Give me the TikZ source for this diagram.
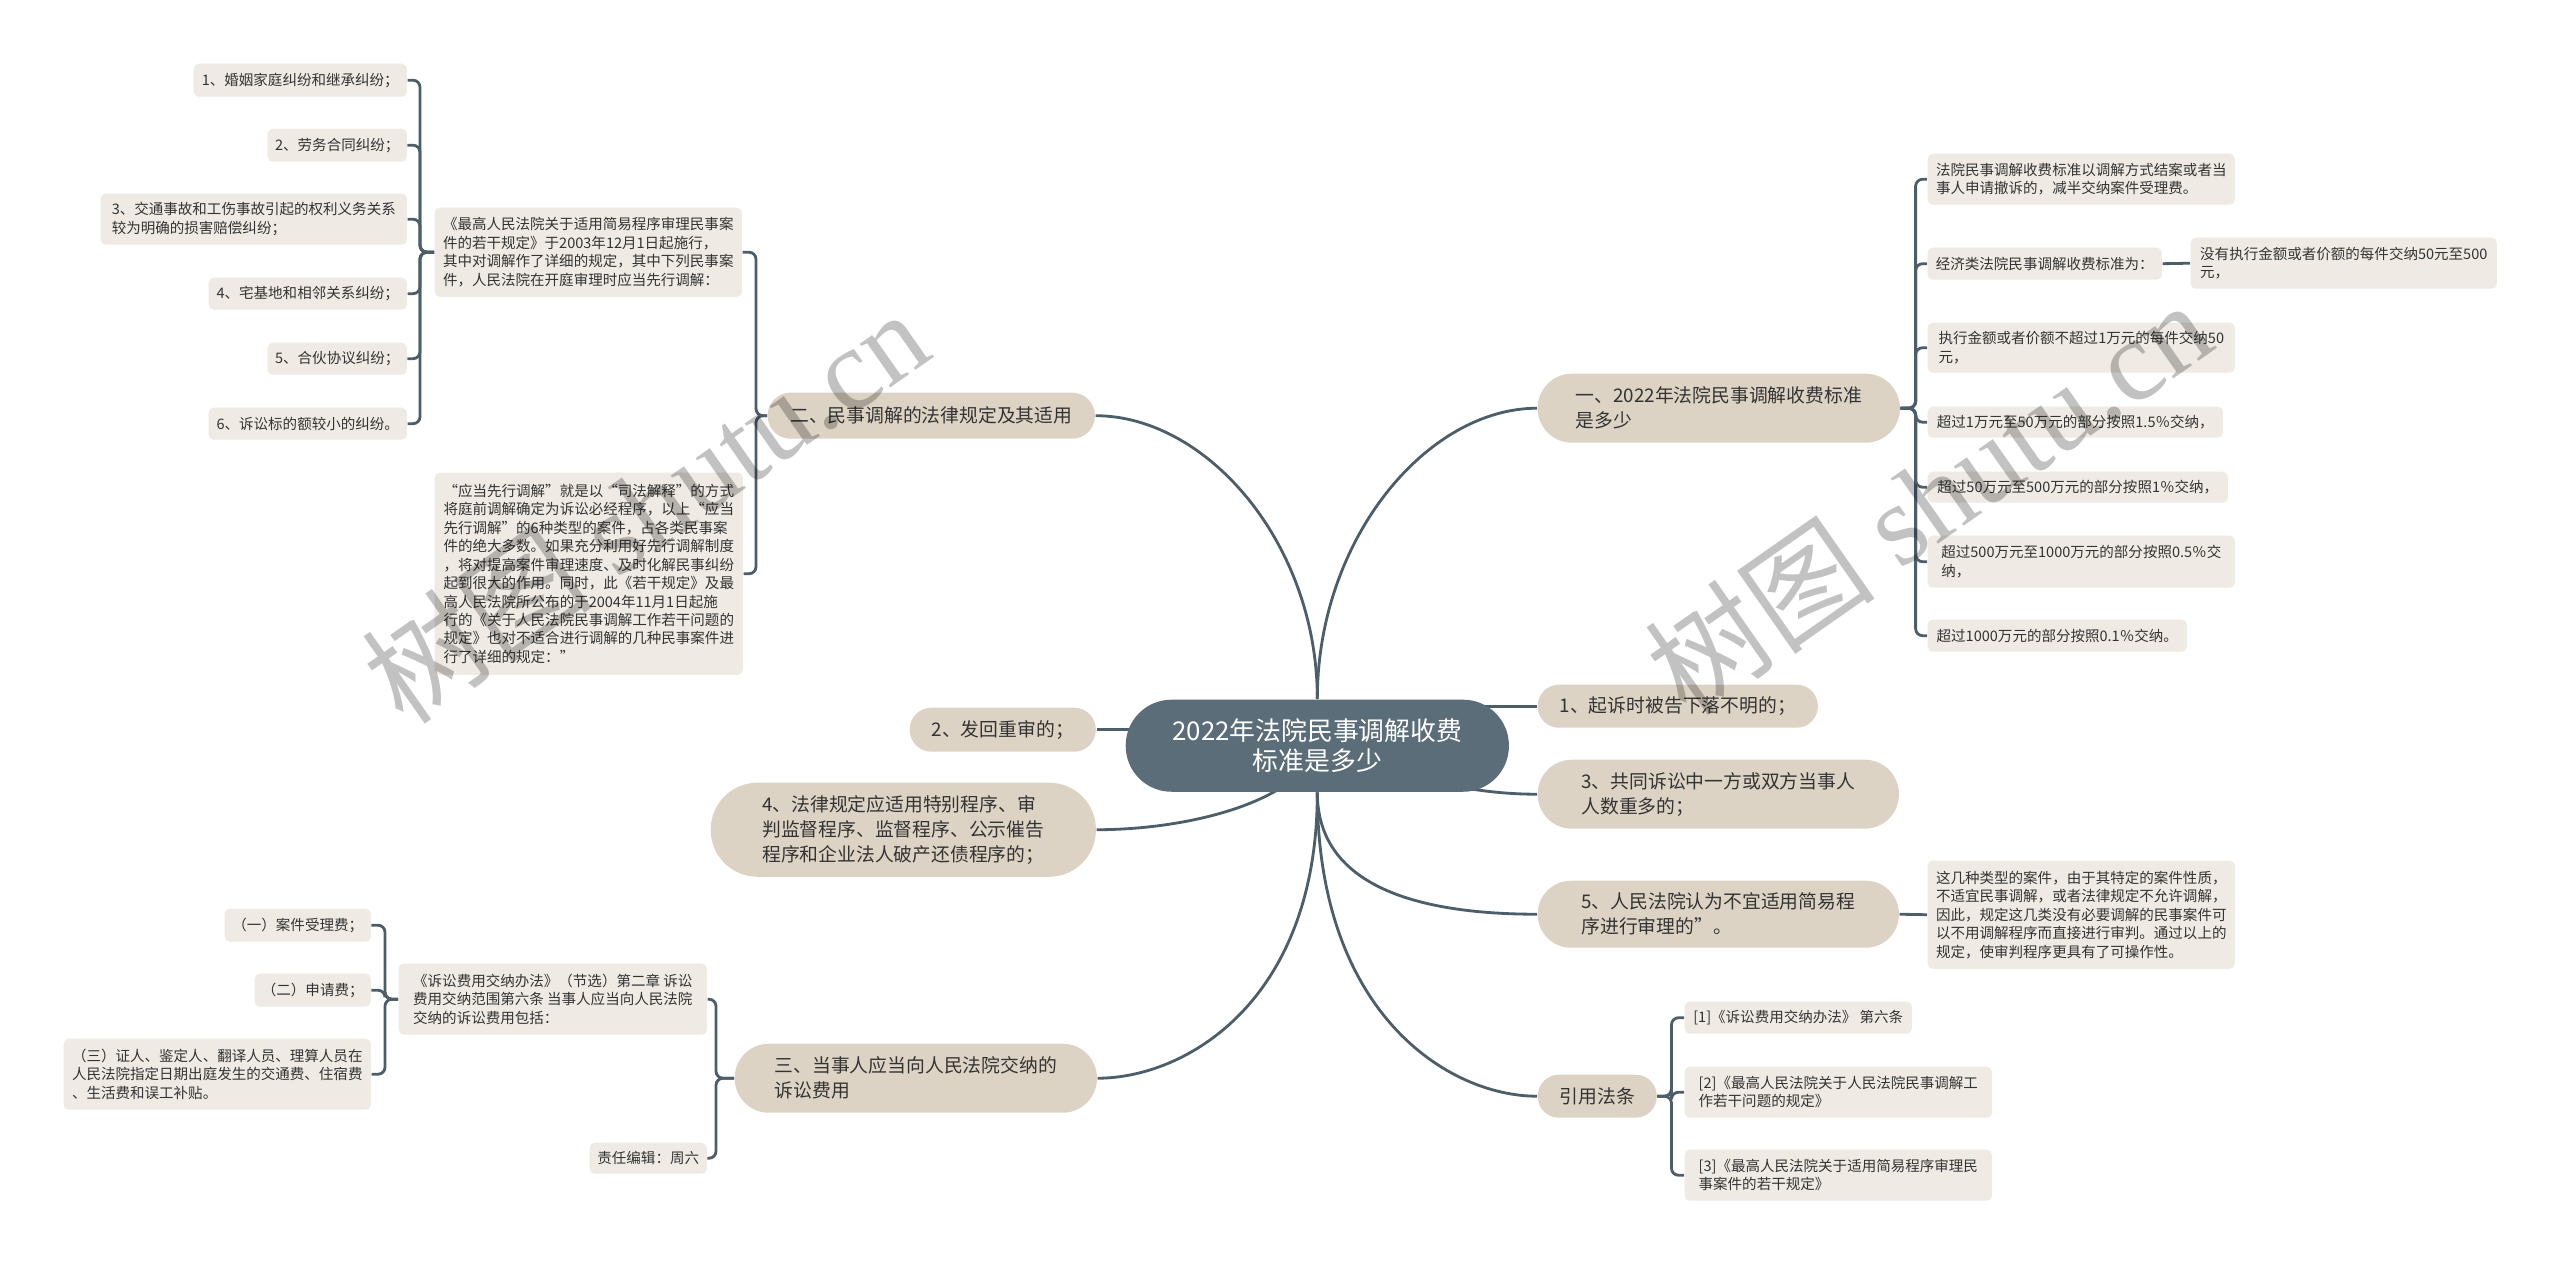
\documentclass[tikz,border=0pt]{standalone}
\usepackage{fontspec}
\setmainfont{Noto Sans CJK SC}
\newfontfamily\wmlatin{Liberation Serif}
\usetikzlibrary{backgrounds}
\definecolor{rootc}{HTML}{5B6D79}
\definecolor{branchc}{HTML}{DDD3C4}
\definecolor{leafc}{HTML}{EFEBE4}
\definecolor{linec}{HTML}{4C5E6A}
\definecolor{txtc}{HTML}{333333}
\newcommand\leafbox[6]{%
  \pgfmathsetmacro\nw{(#4-#2)/100}\pgfmathsetmacro\nh{(#5-#3)/100}%
  \node[leaf, minimum width=\nw cm, minimum height=\nh cm, anchor=north west] (#1) at (#2,#3) {#6};}
\newcommand\pillbox[6]{%
  \pgfmathsetmacro\nw{(#4-#2)/100}\pgfmathsetmacro\nh{(#5-#3)/100}\pgfmathsetmacro\nr{(#5-#3)/200-0.003}%
  \node[pill, rounded corners=\nr cm, minimum width=\nw cm, minimum height=\nh cm, anchor=north west] (#1) at (#2,#3) {#6};}
\begin{document}
\begin{tikzpicture}[x=0.01cm,y=-0.01cm,
  leaf/.style={fill=leafc, rounded corners=0.05cm, inner sep=0pt, align=left, text=txtc, font=\fontsize{4.13pt}{5.25pt}\selectfont},
  pill/.style={fill=branchc, inner sep=0pt, align=left, text=txtc, font=\fontsize{5.35pt}{7.1pt}\selectfont},
  conn/.style={draw=linec, line width=0.8pt},
  br/.style={conn, rounded corners=0.07cm},
  wm/.style={rotate=35, text=black, opacity=0.24, font=\fontsize{33pt}{33pt}\selectfont}]
\useasboundingbox (0,0) rectangle (2560,1264);

% root
\node[fill=rootc, rounded corners=0.457cm, minimum width=3.83cm, minimum height=0.92cm, inner sep=0pt,
  text=white, align=center, font=\fontsize{7.35pt}{8.6pt}\selectfont, anchor=north west] (root) at (1125,699)
  {2022年法院民事调解收费\\标准是多少};

% main branches
\pillbox{B2}{767}{392}{1094}{438}{二、民事调解的法律规定及其适用}
\pillbox{B1}{1537}{373}{1899}{442}{一、2022年法院民事调解收费标准\\是多少}
\pillbox{B3}{734}{1043}{1096}{1112}{三、当事人应当向人民法院交纳的\\诉讼费用}
\pillbox{N2}{909}{707}{1095}{751}{2、发回重审的；}
\pillbox{N4}{710}{782}{1095}{876}{4、法律规定应适用特别程序、审\\判监督程序、监督程序、公示催告\\程序和企业法人破产还债程序的；}
\pillbox{N1}{1537}{684}{1817}{727}{1、起诉时被告下落不明的；}
\pillbox{N3}{1537}{759}{1898}{828}{3、共同诉讼中一方或双方当事人\\人数重多的；}
\pillbox{N5}{1537}{880}{1898}{947}{5、人民法院认为不宜适用简易程\\序进行审理的”。}
\pillbox{Ref}{1537}{1074}{1656}{1117}{引用法条}

% left top leaves
\leafbox{L1}{193}{63}{406}{96}{1、婚姻家庭纠纷和继承纠纷；}
\leafbox{L2}{267}{128}{406}{161}{2、劳务合同纠纷；}
\leafbox{L3}{100}{193}{406}{244}{3、交通事故和工伤事故引起的权利义务关系\\较为明确的损害赔偿纠纷；}
\leafbox{L4}{208}{277}{406}{309}{4、宅基地和相邻关系纠纷；}
\leafbox{L5}{267}{342}{406}{374}{5、合伙协议纠纷；}
\leafbox{L6}{208}{407}{406}{439}{6、诉讼标的额较小的纠纷。}
\leafbox{P1}{434}{207}{741}{296}{《最高人民法院关于适用简易程序审理民事案\\件的若干规定》于2003年12月1日起施行，\\其中对调解作了详细的规定，其中下列民事案\\件，人民法院在开庭审理时应当先行调解：}
\leafbox{P2}{434}{472}{742}{674}{“应当先行调解”就是以“司法解释”的方式\\将庭前调解确定为诉讼必经程序，以上“应当\\先行调解”的6种类型的案件，占各类民事案\\件的绝大多数。如果充分利用好先行调解制度\\，将对提高案件审理速度、及时化解民事纠纷\\起到很大的作用。同时，此《若干规定》及最\\高人民法院所公布的于2004年11月1日起施\\行的《关于人民法院民事调解工作若干问题的\\规定》也对不适合进行调解的几种民事案件进\\行了详细的规定：”}

% left bottom leaves
\leafbox{c1}{224}{908}{370}{941}{（一）案件受理费；}
\leafbox{c2}{254}{973}{370}{1006}{（二）申请费；}
\leafbox{c3}{63}{1038}{370}{1109}{（三）证人、鉴定人、翻译人员、理算人员在\\人民法院指定日期出庭发生的交通费、住宿费\\、生活费和误工补贴。}
\leafbox{P3}{398}{963}{706}{1034}{《诉讼费用交纳办法》（节选）第二章 诉讼\\费用交纳范围第六条 当事人应当向人民法院\\交纳的诉讼费用包括：}
\leafbox{P4}{589}{1142}{706}{1173}{责任编辑：周六}

% right leaves
\leafbox{r1}{1927}{153}{2234}{204}{法院民事调解收费标准以调解方式结案或者当\\事人申请撤诉的，减半交纳案件受理费。}
\leafbox{r2}{1927}{247}{2161}{279}{经济类法院民事调解收费标准为：}
\leafbox{r2a}{2190}{237}{2496}{288}{没有执行金额或者价额的每件交纳50元至500\\元，}
\leafbox{r3}{1927}{322}{2234}{372}{执行金额或者价额不超过1万元的每件交纳50\\元，}
\leafbox{r4}{1927}{406}{2222}{437}{超过1万元至50万元的部分按照1.5％交纳，}
\leafbox{r5}{1927}{471}{2227}{502}{超过50万元至500万元的部分按照1％交纳，}
\leafbox{r6}{1927}{535}{2234}{587}{超过500万元至1000万元的部分按照0.5％交\\纳，}
\leafbox{r7}{1927}{619}{2186}{651}{超过1000万元的部分按照0.1％交纳。}
\leafbox{note5}{1927}{860}{2234}{968}{这几种类型的案件，由于其特定的案件性质，\\不适宜民事调解，或者法律规定不允许调解，\\因此，规定这几类没有必要调解的民事案件可\\以不用调解程序而直接进行审判。通过以上的\\规定，使审判程序更具有了可操作性。}
\leafbox{ref1}{1684}{1001}{1911}{1033}{[1]《诉讼费用交纳办法》 第六条}
\leafbox{ref2}{1684}{1066}{1991}{1117}{[2]《最高人民法院关于人民法院民事调解工\\作若干问题的规定》}
\leafbox{ref3}{1684}{1149}{1991}{1200}{[3]《最高人民法院关于适用简易程序审理民\\事案件的若干规定》}

\begin{scope}[on background layer]
\fill[white] (0,0) rectangle (2560,1264);
% root connectors
\draw[conn] (root.north) .. controls +(0,-156) and +(111,0) .. (B2.east);
\draw[conn] (root.north) .. controls +(0,-160) and +(-110,0) .. (B1.west);
\draw[conn] (N2.east) -- (N2.east -| root.center);
\draw[conn] (N1.west) -- (N1.west -| root.center);
\draw[conn] (N3.west) .. controls +(-70,0) and +(80,30) .. (root.center);
\draw[conn] (root.south) .. controls +(0,98) and +(-110,0) .. (N5.west);
\draw[conn] (root.south) .. controls +(0,209) and +(88,0) .. (B3.east);
\draw[conn] (root.south) .. controls +(0,222) and +(-88,0) .. (Ref.west);
\draw[conn] (root.center) .. controls +(-16,55) and +(94,0) .. (N4.east);
% brackets
\foreach \c in {P1,P2} \draw[br] (B2.west) -- ++(-11,0) |- (\c.east);
\foreach \c in {L1,L2,L3,L4,L5,L6} \draw[br] (P1.west) -- ++(-14,0) |- (\c.east);
\foreach \c in {P3,P4} \draw[br] (B3.west) -- ++(-18,0) |- (\c.east);
\foreach \c in {c1,c2,c3} \draw[br] (P3.west) -- ++(-13,0) |- (\c.east);
\foreach \c in {r1,r2,r3,r4,r5,r6,r7} \draw[br] (B1.east) -- ++(15,0) |- (\c.west);
\foreach \c in {ref1,ref2,ref3} \draw[br] (Ref.east) -- ++(14,0) |- (\c.west);
\draw[conn] (r2.east) -- (r2a.west);
\draw[conn] (N5.east) -- (note5.west);
\end{scope}

% watermarks
\node[wm] (wm1) at (645,506) {树图 {\wmlatin shutu.cn}};
\node[wm] (wm2) at (1928,497) {树图 {\wmlatin shutu.cn}};
\end{tikzpicture}
\end{document}
